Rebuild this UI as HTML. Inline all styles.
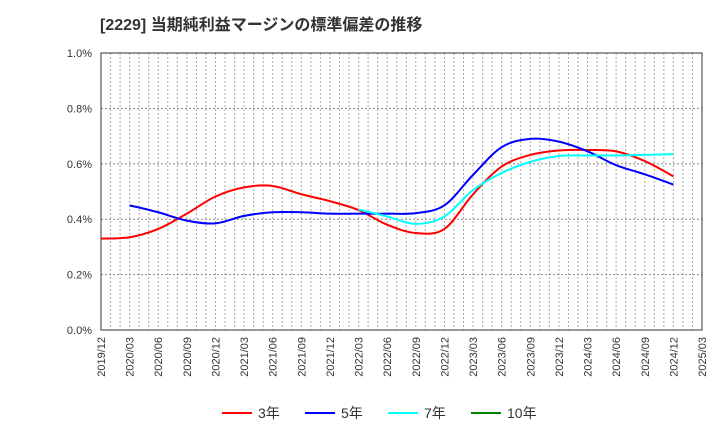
<!DOCTYPE html>
<html><head><meta charset="utf-8"><style>
body{margin:0;background:#fff;font-family:"Liberation Sans","Noto Sans CJK JP",sans-serif;}
</style></head><body>
<svg id="chart" width="720" height="440" xmlns="http://www.w3.org/2000/svg" style="font-family:'Liberation Sans','Noto Sans CJK JP',sans-serif">
<text x="100" y="30" font-size="16" font-weight="bold" fill="#333">[2229]  当期純利益マージンの標準偏差の推移</text>
<g id="grid"></g><g id="axes"></g><g id="series"></g><g id="legend"></g>
</svg>
<script>
const xLabels=["2019/12","2020/03","2020/06","2020/09","2020/12","2021/03","2021/06","2021/09","2021/12","2022/03","2022/06","2022/09","2022/12","2023/03","2023/06","2023/09","2023/12","2024/03","2024/06","2024/09","2024/12","2025/03"];
const yTicks=[0,0.2,0.4,0.6,0.8,1.0];
const yTickLabels=["0.0%","0.2%","0.4%","0.6%","0.8%","1.0%"];
const seriesNames=["3年","5年","7年","10年"];
const red=[0.33,0.335,0.365,0.42,0.482,0.515,0.52,0.49,0.465,0.433,0.38,0.35,0.365,0.49,0.59,0.632,0.648,0.65,0.645,0.61,0.555];
const blue=[null,0.45,0.425,0.395,0.385,0.412,0.425,0.425,0.42,0.42,0.42,0.422,0.45,0.56,0.66,0.69,0.68,0.645,0.595,0.562,0.525];
const cyan=[null,null,null,null,null,null,null,null,null,0.435,0.41,0.383,0.41,0.505,0.567,0.607,0.628,0.63,0.63,0.632,0.635];
const green=[];
</script>
<script>
const NS="http://www.w3.org/2000/svg";
const L=101,R=702,T=53,B=330;
const nMonths=63;
const xq=i=>L+i*3*(R-L)/nMonths;
const y=v=>B-(v/1.0)*(B-T);
function mk(tag,attrs,parent){const e=document.createElementNS(NS,tag);for(const k in attrs)e.setAttribute(k,attrs[k]);parent.appendChild(e);return e;}
const grid=document.getElementById('grid'),axes=document.getElementById('axes'),ser=document.getElementById('series'),leg=document.getElementById('legend');
for(let m=1;m<nMonths;m++){const x=L+m*(R-L)/nMonths;const l=mk('line',{x1:x,x2:x,y1:T,y2:B,stroke:'#aaa','stroke-dasharray':'2,2','stroke-width':1},grid);

}
yTicks.forEach((v,i)=>{if(v>0&&v<1){const l=mk('line',{x1:L,x2:R,y1:y(v),y2:y(v),stroke:'#888','stroke-dasharray':'2,2','stroke-width':1},grid);

}
const t=mk('text',{x:92,y:y(v)+4,'text-anchor':'end','font-size':11,fill:'#333'},axes);t.textContent=yTickLabels[i];

});
const fr=mk('rect',{x:L,y:T,width:R-L,height:B-T,fill:'none',stroke:'#333','stroke-width':1},axes);


xLabels.forEach((s,i)=>{const x=xq(i)+4;const t=mk('text',{x:x,y:B+7,'text-anchor':'end','font-size':11,fill:'#333',transform:`rotate(-90 ${x} ${B+7})`},axes);t.textContent=s;

});
function path(vals,col,name){const pts=[];vals.forEach((v,i)=>{if(v!=null)pts.push([xq(i),y(v)]);});if(pts.length<2)return;
let d=`M${pts[0][0]},${pts[0][1]}`;for(let i=0;i<pts.length-1;i++){const p0=pts[Math.max(0,i-1)],p1=pts[i],p2=pts[i+1],p3=pts[Math.min(pts.length-1,i+2)];
const c1=[p1[0]+(p2[0]-p0[0])/6,p1[1]+(p2[1]-p0[1])/6],c2=[p2[0]-(p3[0]-p1[0])/6,p2[1]-(p3[1]-p1[1])/6];d+=` C${c1[0]},${c1[1]} ${c2[0]},${c2[1]} ${p2[0]},${p2[1]}`;}
const p=mk('path',{d:d,fill:'none',stroke:col,'stroke-width':2},ser);

}
path(red,'#ff0000','line-3yr');path(blue,'#0000ff','line-5yr');path(cyan,'#00ffff','line-7yr');path(green,'#008000','line-10yr');
const cols=['#ff0000','#0000ff','#00ffff','#008000'];const lx=[222,305,388,471];
seriesNames.forEach((n,i)=>{const g=mk('g',{},leg);

mk('line',{x1:lx[i],x2:lx[i]+30,y1:413,y2:413,stroke:cols[i],'stroke-width':2},g);
const t=mk('text',{x:lx[i]+36,y:418,'font-size':14,fill:'#333'},g);t.textContent=n;});
</script>
</body></html>
